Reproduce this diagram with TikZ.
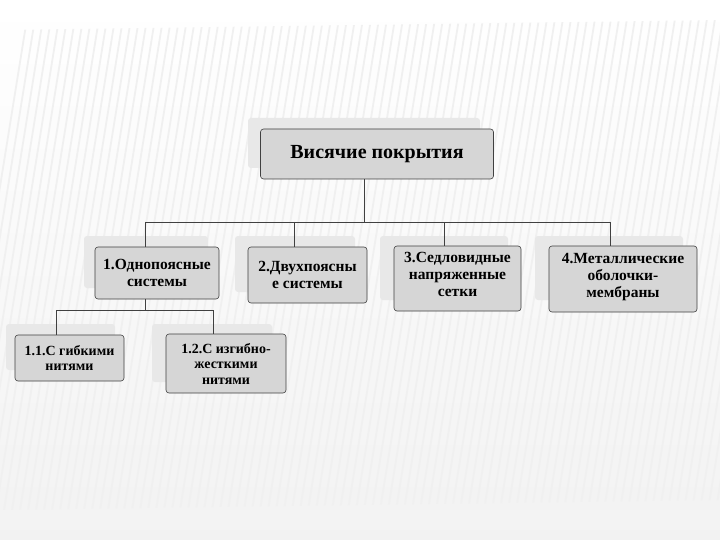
\documentclass[tikz,border=0pt]{standalone}
\usepackage{fontspec}
\setmainfont{Liberation Serif}
\begin{document}
\begin{tikzpicture}[x=1pt,y=-1pt,
  box/.style={draw=black!75,fill=black!16,rounded corners=3pt,line width=0.6pt,font=\bfseries\fontsize{15.5}{17}\selectfont,align=center,inner sep=0pt},
  shadowbox/.style={fill=black!9,rounded corners=3pt,draw=none},
  ln/.style={draw=black!75,line width=0.6pt}]
\useasboundingbox (0,0) rectangle (720,540);
\shade[top color=white,bottom color=black!5] (0,0) rectangle (720,540);
\begin{scope}
\clip (0,30) -- (720,20) -- (720,500) -- (0,510) -- cycle;
\foreach \i in {0,...,100}{\draw[black!6,line width=1.8pt] (\i*8-60,560) -- (\i*8+30,0);}
\end{scope}
% shadows
\foreach \a/\b/\c/\d in {248/118/480/168, 84/236/208/288, 235/236/355/292, 380/236/508/300, 535/236/683/300, 6/324/115/370, 152/324/272/382}
  \fill[shadowbox] (\a,\b) rectangle (\c,\d);
\node[box,minimum width=233pt,minimum height=50pt,font=\bfseries\fontsize{20}{22}\selectfont] (top) at (377,154) {Висячие покрытия};
\node[box,minimum width=124pt,minimum height=52pt] (b1) at (157,273) {1.Однопоясные\\системы};
\node[box,minimum width=119pt,minimum height=56pt] (b2) at (307.5,275) {2.Двухпоясны\\е системы};
\node[box,minimum width=127pt,minimum height=65pt,text depth=8pt] (b3) at (457.5,278.5) {3.Седловидные\\напряженные\\сетки};
\node[box,minimum width=148pt,minimum height=66pt,text depth=8pt] (b4) at (623,279) {4.Металлические\\оболочки-\\мембраны};
\node[box,minimum width=109pt,minimum height=46pt,font=\bfseries\fontsize{14}{15.5}\selectfont] (b11) at (69.5,358) {1.1.С гибкими\\нитями};
\node[box,minimum width=120pt,minimum height=59pt,font=\bfseries\fontsize{14}{15.5}\selectfont] (b12) at (226,363.5) {1.2.С изгибно-\\жесткими\\нитями};
\coordinate (h) at (364,222);
\draw[ln] (top.south -| h) -- (h);
\draw[ln] (145,222) -- (610,222);
\foreach \n/\x in {b1/145,b2/294,b3/444,b4/610} \draw[ln] (\x,222) -- (\x,0 |- \n.north);
\draw[ln] (145,0 |- b1.south) -- (145,310);
\draw[ln] (56,310) -- (213,310);
\draw[ln] (56,310) -- (56,0 |- b11.north);
\draw[ln] (213,310) -- (213,0 |- b12.north);
\end{tikzpicture}
\end{document}
